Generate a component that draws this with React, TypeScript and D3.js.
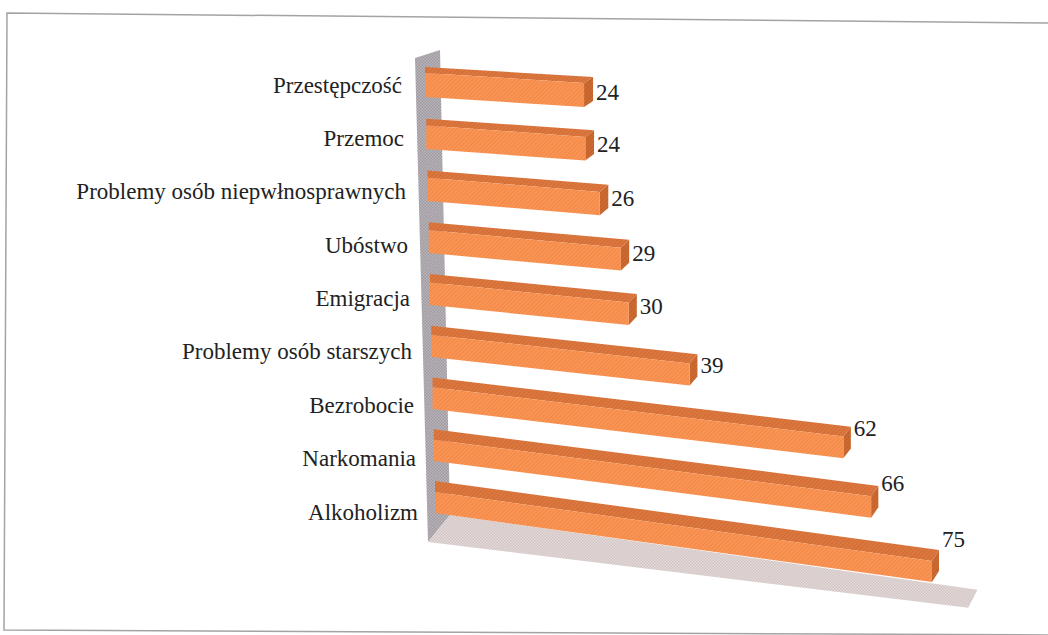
import React, { useEffect, useRef } from 'react';
import * as d3 from 'd3';

const categories = [
  'Przestępczość',
  'Przemoc',
  'Problemy osób niepwłnosprawnych',
  'Ubóstwo',
  'Emigracja',
  'Problemy osób starszych',
  'Bezrobocie',
  'Narkomania',
  'Alkoholizm'
];
const values = [24, 24, 26, 29, 30, 39, 62, 66, 75];
const axisMax = 80;

function App() {
  const svgRef = useRef<SVGSVGElement>(null);

  useEffect(() => {
    if (!svgRef.current) return;
    document.body.style.margin = '0';

    const width = 1048;
    const height = 635;
    const last = categories.length - 1;

    d3.select(svgRef.current).selectAll('*').remove();
    const svg = d3.select(svgRef.current)
      .attr('width', width)
      .attr('height', height)
      .attr('viewBox', `0 0 ${width} ${height}`);

    // perspective: every property of a bar changes a little from row to row
    const x0 = d3.scaleLinear().domain([0, last]).range([425, 435]);
    const len = d3.scaleLinear().domain([0, 75]).range([0, 497]);
    const yTop = d3.scaleLinear().domain([0, last]).range([73, 492]);
    const slope = d3.scaleLinear().domain([0, last]).range([0.063, 0.139]);
    const barH = d3.scaleLinear().domain([0, last]).range([24, 21]);
    const depthX = d3.scaleLinear().domain([0, last]).range([9, 7]);
    const depthY = d3.scaleLinear().domain([0, last]).range([-6, -11]);
    const labelRight = d3.scaleLinear().domain([0, last]).range([402, 418]);
    const labelY = d3.scaleLinear().domain([0, last]).range([85, 512]);
    const valueOffset = d3.scaleLinear().domain([150, 260, 500]).range([18, 31, 48]).clamp(true);

    const defs = svg.append('defs');
    const hatch = (id: string, base: string, stroke: string, size: number) => {
      const p = defs.append('pattern')
        .attr('id', id)
        .attr('patternUnits', 'userSpaceOnUse')
        .attr('width', size)
        .attr('height', size)
        .attr('patternTransform', 'rotate(45)');
      p.append('rect').attr('width', size).attr('height', size).attr('fill', base);
      p.append('line').attr('x1', 0).attr('y1', 0).attr('x2', 0).attr('y2', size)
        .attr('stroke', stroke).attr('stroke-width', 1.2);
    };
    hatch('front', '#fa9454', '#ea8140', 3);
    hatch('top', '#dc773e', '#c86631', 3);
    hatch('end', '#cd6a31', '#b65b27', 3);

    const checker = (id: string, base: string, dot: string) => {
      const p = defs.append('pattern')
        .attr('id', id)
        .attr('patternUnits', 'userSpaceOnUse')
        .attr('width', 3)
        .attr('height', 3);
      p.append('rect').attr('width', 3).attr('height', 3).attr('fill', base);
      p.append('rect').attr('width', 1.5).attr('height', 1.5).attr('fill', dot);
      p.append('rect').attr('x', 1.5).attr('y', 1.5).attr('width', 1.5).attr('height', 1.5).attr('fill', dot);
    };
    checker('wall', '#b9b5ba', '#9d999f');
    checker('floor', '#e4d9d9', '#d2c5c6');

    // frame
    svg.append('path')
      .attr('d', 'M1048,23 L7,13 L4,630 L1048,635')
      .attr('fill', 'none')
      .attr('stroke', '#a3a3a3')
      .attr('stroke-width', 1.5);

    const line = d3.line<[number, number]>();

    // left wall
    svg.append('path')
      .attr('d', line([[415, 58], [440, 50], [450, 515], [428, 542]]) + 'Z')
      .attr('fill', 'url(#wall)');

    // floor, running from 0 to axisMax
    const floorLen = len(axisMax);
    svg.append('path')
      .attr('d', line([
        [450, 515],
        [450 + floorLen * 0.995, 515 + floorLen * 0.141],
        [428 + floorLen * 1.019, 542 + floorLen * 0.124],
        [428, 542]
      ]) + 'Z')
      .attr('fill', 'url(#floor)');

    const bars = svg.append('g');
    values.forEach((v, i) => {
      const xl = x0(i);
      const w = len(v);
      const xr = xl + w;
      const yl = yTop(i);
      const yr = yl + slope(i) * w;
      const h = barH(i);
      const dx = depthX(i);
      const dy = depthY(i);
      const g = bars.append('g');

      g.append('path')
        .attr('d', line([[xl, yl + dy], [xr + dx, yr + dy], [xr, yr], [xl, yl]]) + 'Z')
        .attr('fill', 'url(#top)');
      g.append('path')
        .attr('d', line([[xr, yr], [xr + dx, yr + dy], [xr + dx, yr + dy + h], [xr, yr + h]]) + 'Z')
        .attr('fill', 'url(#end)');
      g.append('path')
        .attr('d', line([[xl, yl], [xr, yr], [xr, yr + h], [xl, yl + h]]) + 'Z')
        .attr('fill', 'url(#front)');

      g.append('text')
        .attr('x', xr + dx + 3)
        .attr('y', yl + valueOffset(w))
        .attr('dominant-baseline', 'central')
        .attr('font-family', 'Liberation Serif')
        .attr('font-size', 23)
        .attr('fill', '#222')
        .text(v);
    });

    svg.append('g')
      .selectAll('text')
      .data(categories)
      .join('text')
      .attr('x', (_, i) => labelRight(i))
      .attr('y', (_, i) => labelY(i))
      .attr('text-anchor', 'end')
      .attr('dominant-baseline', 'central')
      .attr('font-family', 'Liberation Serif')
      .attr('font-size', 23)
      .attr('fill', '#222')
      .text(d => d);
  }, []);

  return (
    <div>
      <svg ref={svgRef}></svg>
    </div>
  );
}

export default App;
